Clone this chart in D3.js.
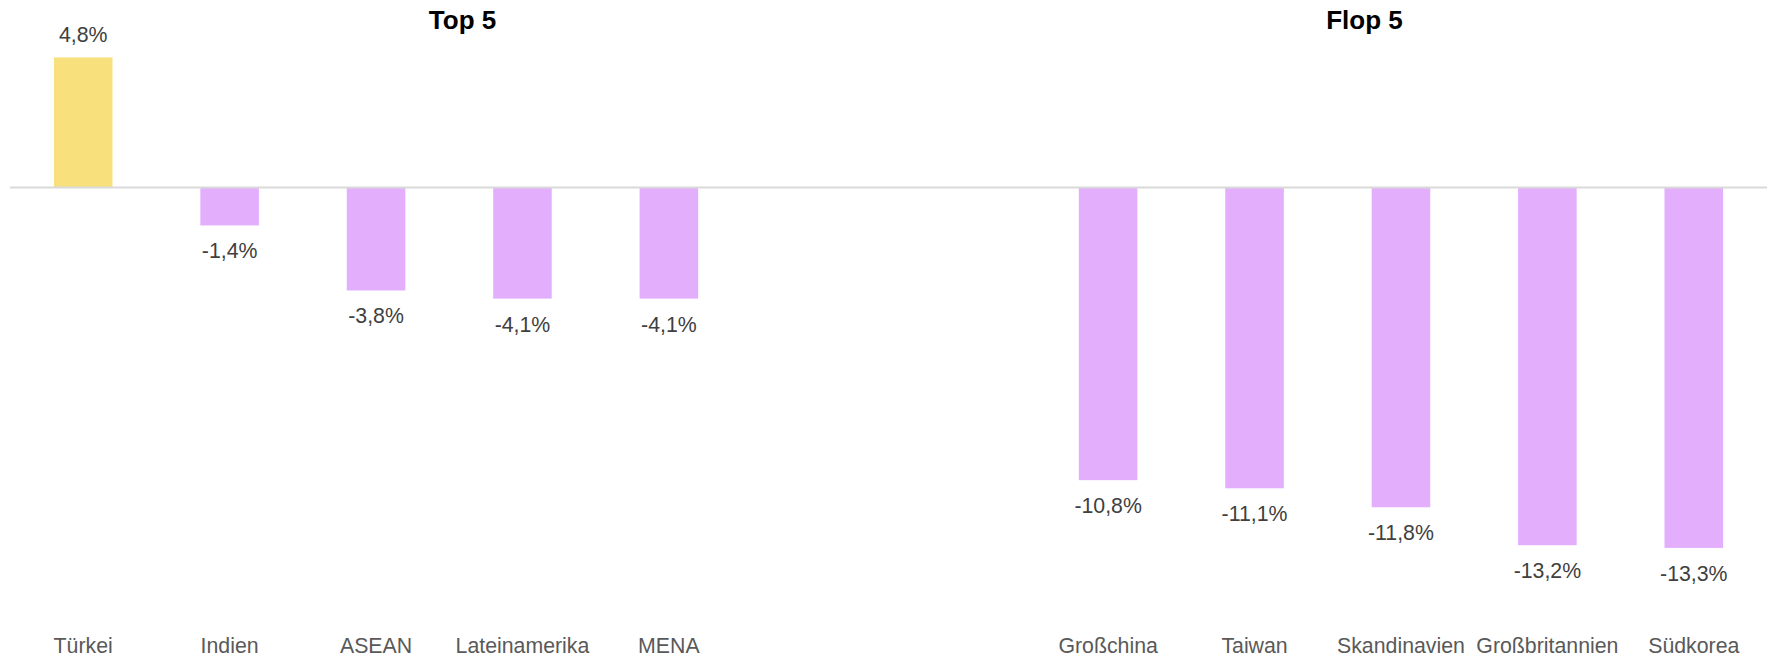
<!DOCTYPE html>
<html>
<head>
<meta charset="utf-8">
<script src="https://cdn.jsdelivr.net/npm/d3@7"></script>
<style>
  body { margin: 0; background: #fff; }
  text { font-family: "Liberation Sans", Arial, sans-serif; }
</style>
</head>
<body>
<div id="chart"></div>
<script>
/* data */
var topCategories = ["Türkei", "Indien", "ASEAN", "Lateinamerika", "MENA"];
var topValues = [4.8, -1.4, -3.8, -4.1, -4.1];
var flopCategories = ["Großchina", "Taiwan", "Skandinavien", "Großbritannien", "Südkorea"];
var flopValues = [-10.8, -11.1, -11.8, -13.2, -13.3];
var groupTitles = ["Top 5", "Flop 5"];

var width = 1769, height = 658;

var data = topCategories.map(function(c, i) { return { cat: c, value: topValues[i] }; })
    .concat(flopCategories.map(function(c, i) { return { cat: c, value: flopValues[i] }; }));

/* two empty slots between the groups */
var domain = topCategories.concat(["_gap1", "_gap2"], flopCategories);

var x = d3.scaleBand()
    .domain(domain)
    .range([10, 1767])
    .paddingInner(0.6)
    .paddingOuter(0.3);

var y = d3.scaleLinear()
    .domain([-14, 5])
    .range([566.9, 52]);

var svg = d3.select("#chart")
    .append("svg")
    .attr("width", width)
    .attr("height", height);

/* bars */
svg.selectAll("rect.bar").data(data)
    .enter().append("rect")
    .attr("class", "bar")
    .attr("x", function(d) { return x(d.cat); })
    .attr("width", x.bandwidth())
    .attr("y", function(d) { return y(Math.max(0, d.value)); })
    .attr("height", function(d) { return Math.abs(y(d.value) - y(0)); })
    .attr("fill", function(d) { return d.value >= 0 ? "#F8E17C" : "#E3AFFD"; });

/* zero line */
svg.append("line")
    .attr("x1", 10)
    .attr("x2", 1767)
    .attr("y1", y(0))
    .attr("y2", y(0))
    .attr("stroke", "#d9d9d9")
    .attr("stroke-width", 2);

/* value labels */
svg.selectAll("text.value").data(data)
    .enter().append("text")
    .attr("class", "value")
    .attr("x", function(d) { return x(d.cat) + x.bandwidth() / 2; })
    .attr("y", function(d) { return d.value >= 0 ? y(d.value) - 15 : y(d.value) + 33; })
    .attr("text-anchor", "middle")
    .attr("font-size", 21.3)
    .attr("fill", "#404040")
    .text(function(d) { return d3.format(".1f")(d.value).replace(".", ",").replace("−", "-") + "%"; });

/* category labels */
svg.selectAll("text.cat").data(data)
    .enter().append("text")
    .attr("class", "cat")
    .attr("x", function(d) { return x(d.cat) + x.bandwidth() / 2; })
    .attr("y", 653)
    .attr("text-anchor", "middle")
    .attr("font-size", 21.3)
    .attr("fill", "#595959")
    .text(function(d) { return d.cat; });

/* group titles */
var titleX = [462.5, 1364.5];
svg.selectAll("text.title").data(groupTitles)
    .enter().append("text")
    .attr("class", "title")
    .attr("x", function(d, i) { return titleX[i]; })
    .attr("y", 29)
    .attr("text-anchor", "middle")
    .attr("font-size", 26)
    .attr("font-weight", "bold")
    .attr("fill", "#000")
    .text(function(d) { return d; });
</script>
</body>
</html>
